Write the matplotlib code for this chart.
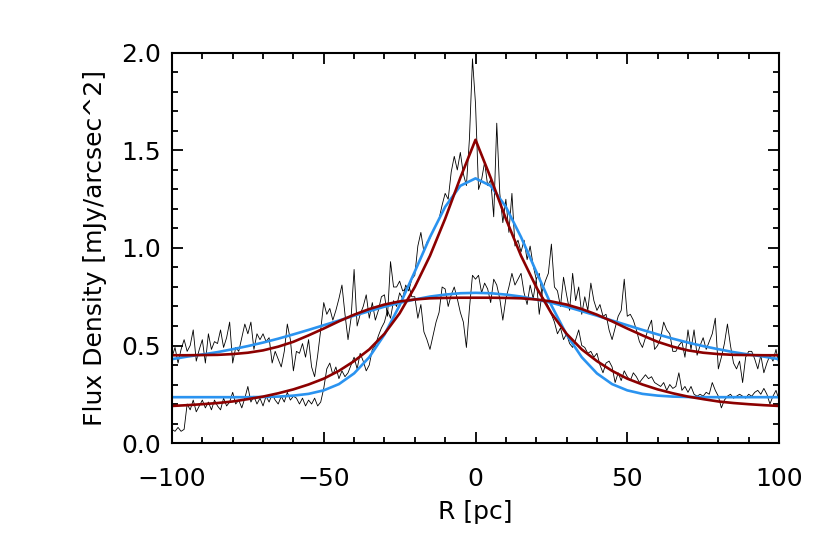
import numpy as np
import matplotlib.pyplot as plt
from matplotlib.ticker import MultipleLocator, FormatStrFormatter

# radial grid of the measured profiles (pc)
r_data = np.arange(-100, 101, 1)

# compact (peaked) profile
flux_core = [
    0.07, 0.06, 0.08, 0.06, 0.07, 0.20, 0.17, 0.22, 0.16, 0.19,
    0.22, 0.18, 0.21, 0.17, 0.22, 0.19, 0.17, 0.23, 0.19, 0.21,
    0.26, 0.20, 0.22, 0.18, 0.23, 0.29, 0.21, 0.24, 0.20, 0.23,
    0.19, 0.24, 0.21, 0.25, 0.22, 0.20, 0.24, 0.21, 0.26, 0.22,
    0.24, 0.23, 0.20, 0.23, 0.19, 0.22, 0.20, 0.23, 0.19, 0.21,
    0.28, 0.38, 0.41, 0.35, 0.39, 0.33, 0.37, 0.34, 0.36, 0.40,
    0.44, 0.38, 0.46, 0.42, 0.37, 0.40, 0.48, 0.50, 0.55, 0.59,
    0.62, 0.68, 0.64, 0.73, 0.70, 0.77, 0.74, 0.81, 0.78, 0.84,
    0.86, 1.01, 1.08, 0.98, 1.03, 1.05, 1.09, 1.12, 1.15, 1.22,
    1.28, 1.25, 1.39, 1.47, 1.40, 1.49, 1.38, 1.32, 1.56, 1.97,
    1.74, 1.30, 1.35, 1.44, 1.32, 1.35, 1.16, 1.64, 1.28, 1.13,
    1.25, 1.08, 1.28, 1.01, 1.04, 0.98, 1.04, 0.94, 1.01, 0.91,
    0.84, 0.87, 0.75, 0.73, 0.70, 0.66, 0.62, 0.56, 0.59, 0.53,
    0.56, 0.51, 0.49, 0.53, 0.58, 0.50, 0.49, 0.46, 0.47, 0.44,
    0.46, 0.40, 0.36, 0.41, 0.42, 0.39, 0.31, 0.36, 0.32, 0.37,
    0.34, 0.32, 0.36, 0.34, 0.31, 0.33, 0.35, 0.33, 0.34, 0.31,
    0.30, 0.29, 0.31, 0.27, 0.30, 0.28, 0.29, 0.36, 0.27, 0.29,
    0.26, 0.29, 0.25, 0.24, 0.25, 0.24, 0.26, 0.25, 0.31, 0.27,
    0.24, 0.18, 0.22, 0.24, 0.25, 0.23, 0.24, 0.25, 0.24, 0.23,
    0.25, 0.24, 0.26, 0.27, 0.25, 0.28, 0.25, 0.20, 0.24, 0.27,
    0.22,
]

# extended (flat) profile
flux_ext = [
    0.44, 0.49, 0.41, 0.48, 0.53, 0.47, 0.50, 0.58, 0.42, 0.48,
    0.53, 0.41, 0.56, 0.48, 0.52, 0.51, 0.58, 0.49, 0.54, 0.62,
    0.41, 0.49, 0.47, 0.54, 0.61, 0.56, 0.62, 0.48, 0.56, 0.53,
    0.56, 0.52, 0.54, 0.41, 0.47, 0.43, 0.39, 0.47, 0.61, 0.53,
    0.37, 0.47, 0.46, 0.51, 0.44, 0.53, 0.39, 0.34, 0.45, 0.58,
    0.72, 0.66, 0.69, 0.63, 0.68, 0.74, 0.81, 0.66, 0.53, 0.64,
    0.89, 0.60, 0.66, 0.70, 0.76, 0.64, 0.72, 0.63, 0.68, 0.75,
    0.76, 0.65, 0.93, 0.80, 0.80, 0.83, 0.78, 0.79, 0.81, 0.75,
    0.75, 0.64, 0.71, 0.57, 0.53, 0.48, 0.55, 0.62, 0.67, 0.80,
    0.79, 0.70, 0.76, 0.80, 0.74, 0.67, 0.62, 0.49, 0.69, 0.86,
    0.84, 0.86, 0.77, 0.82, 0.79, 0.72, 0.84, 0.81, 0.74, 0.63,
    0.74, 0.80, 0.87, 0.81, 0.84, 0.87, 0.77, 0.71, 0.81, 0.74,
    0.84, 0.66, 0.78, 0.83, 0.87, 1.02, 0.80, 0.78, 0.70, 0.85,
    0.76, 0.68, 0.87, 0.73, 0.80, 0.66, 0.75, 0.68, 0.82, 0.73,
    0.68, 0.71, 0.65, 0.66, 0.58, 0.53, 0.59, 0.65, 0.68, 0.84,
    0.65, 0.66, 0.63, 0.58, 0.52, 0.49, 0.54, 0.59, 0.63, 0.48,
    0.50, 0.54, 0.62, 0.58, 0.56, 0.47, 0.47, 0.50, 0.52, 0.44,
    0.58, 0.48, 0.58, 0.45, 0.50, 0.54, 0.48, 0.52, 0.56, 0.64,
    0.38, 0.44, 0.51, 0.61, 0.50, 0.41, 0.38, 0.42, 0.31, 0.44,
    0.47, 0.47, 0.43, 0.38, 0.45, 0.36, 0.41, 0.45, 0.42, 0.48,
    0.40,
]

# model fits, sampled every 5 pc
r_fit = np.arange(-100, 101, 5)
# one side (0..100), mirrored below
red_core_half = [1.555, 1.36, 1.15, 0.96, 0.80, 0.665, 0.56, 0.48, 0.42, 0.37,
                 0.33, 0.30, 0.275, 0.255, 0.238, 0.225, 0.213, 0.205, 0.199, 0.194, 0.19]
blue_core_half = [1.357, 1.319, 1.211, 1.056, 0.879, 0.706, 0.556, 0.440, 0.357, 0.302,
                  0.270, 0.252, 0.243, 0.238, 0.236, 0.235, 0.235, 0.235, 0.235, 0.235, 0.235]
red_ext_half = [0.745, 0.745, 0.744, 0.742, 0.736, 0.726, 0.710, 0.687, 0.658, 0.624,
                0.587, 0.552, 0.519, 0.494, 0.475, 0.463, 0.456, 0.452, 0.451, 0.450, 0.450]
blue_ext_half = [0.770, 0.768, 0.761, 0.751, 0.736, 0.719, 0.699, 0.676, 0.653, 0.628,
                 0.604, 0.580, 0.557, 0.535, 0.515, 0.497, 0.481, 0.466, 0.454, 0.443, 0.430]


def mirror(half):
    return half[:0:-1] + half


red_c = "#8c0000"
blue_c = "#2a93f0"

fig = plt.figure(figsize=(8.3, 5.53), dpi=100)
ax = fig.add_axes([0.2072, 0.1989, 0.7314, 0.7053])

ax.plot(r_data, flux_ext, color="black", lw=0.6)
ax.plot(r_data, flux_core, color="black", lw=0.6)

ax.plot(r_fit, mirror(blue_ext_half), color=blue_c, lw=1.9)
ax.plot(r_fit, mirror(blue_core_half), color=blue_c, lw=1.9)
ax.plot(r_fit, mirror(red_ext_half), color=red_c, lw=1.9)
ax.plot(r_fit, mirror(red_core_half), color=red_c, lw=1.9)

ax.set_xlim(-100, 100)
ax.set_ylim(0.0, 2.0)
ax.xaxis.set_major_locator(MultipleLocator(50))
ax.xaxis.set_minor_locator(MultipleLocator(10))
ax.yaxis.set_major_locator(MultipleLocator(0.5))
ax.yaxis.set_minor_locator(MultipleLocator(0.1))
ax.yaxis.set_major_formatter(FormatStrFormatter("%.1f"))

ax.tick_params(which="both", direction="in", top=True, right=True, width=1.3,
               labelsize=18)
ax.tick_params(which="major", length=8)
ax.tick_params(which="minor", length=4)
ax.tick_params(axis="x", which="major", pad=17)
ax.tick_params(axis="y", which="major", pad=8)
for s in ax.spines.values():
    s.set_linewidth(1.5)

ax.set_xlabel("R [pc]", fontsize=18, labelpad=7)
ax.set_ylabel("Flux Density [mJy/arcsec^2]", fontsize=18, labelpad=10)

fig.savefig("out.png", dpi=100)
